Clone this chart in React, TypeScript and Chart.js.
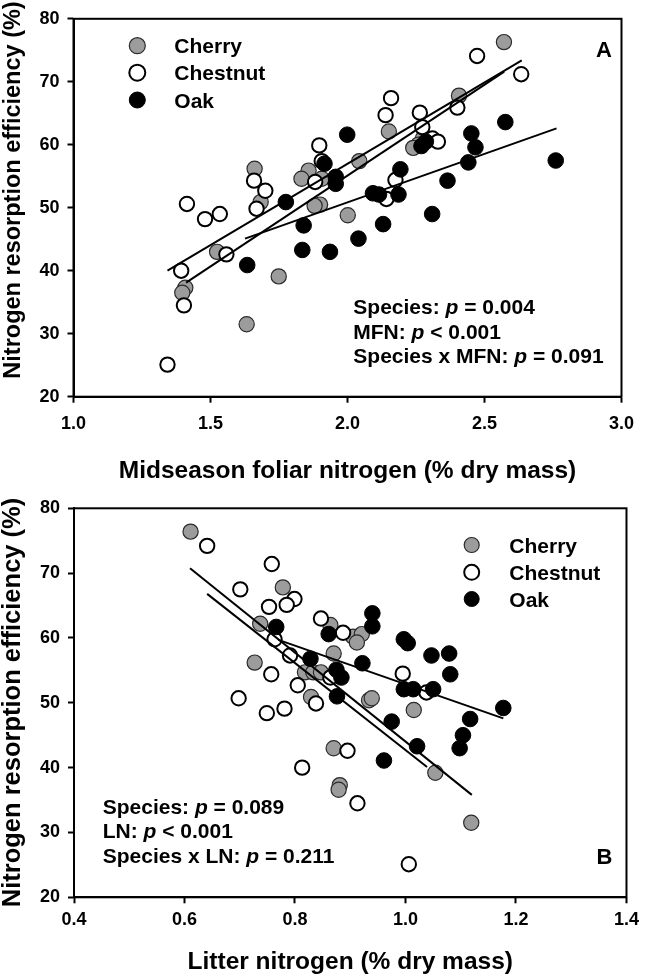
import { useEffect, useRef } from "react";
import { Chart, registerables } from "chart.js";

Chart.register(...registerables);

const FONT = "'Liberation Sans', Arial, Helvetica, sans-serif";

// ---- Panel A: midseason foliar nitrogen vs. nitrogen resorption efficiency ----
const cherryMfn = [2.571, 2.407, 2.151, 2.275, 2.258, 2.240, 2.043, 1.661, 1.858, 1.832, 1.906, 1.683, 1.900, 1.880, 2.001, 1.524, 1.749, 1.408, 1.397, 1.632];
const cherryNreA = [76.3, 67.8, 62.1, 61.0, 60.0, 59.5, 57.4, 56.2, 55.9, 54.6, 54.6, 50.9, 50.5, 50.3, 48.8, 43.0, 39.1, 37.3, 36.5, 31.5];

const chestnutMfn = [2.473, 2.634, 2.159, 2.401, 2.264, 2.139, 2.273, 2.310, 2.330, 1.897, 1.906, 1.659, 1.882, 2.175, 1.700, 2.142, 1.414, 1.668, 1.534, 1.480, 1.558, 1.393, 1.403, 1.343];
const chestnutNreA = [74.1, 71.2, 67.4, 65.9, 65.1, 64.7, 62.8, 61.0, 60.5, 59.9, 57.4, 54.3, 54.1, 54.4, 52.7, 51.4, 50.6, 49.85, 49.0, 48.2, 42.6, 40.0, 34.5, 25.1];

const oakMfn = [2.576, 1.999, 2.452, 2.286, 2.270, 2.467, 2.760, 2.441, 1.916, 2.193, 1.957, 1.957, 2.365, 2.093, 2.115, 2.186, 1.775, 2.309, 2.130, 1.840, 2.040, 1.835, 1.936, 1.634];
const oakNreA = [63.6, 61.6, 61.8, 60.5, 59.8, 59.6, 57.5, 57.2, 57.0, 56.1, 54.9, 53.8, 54.3, 52.3, 52.1, 52.1, 50.9, 49.0, 47.4, 47.2, 45.1, 43.3, 43.0, 40.9];

// fitted regression lines (end points)
const cherryFitA = { x: [1.411, 2.572], y: [38.1, 71.6] };
const chestnutFitA = { x: [1.343, 2.636], y: [40.0, 73.4] };
const oakFitA = { x: [1.626, 2.763], y: [45.1, 62.6] };

const xTicksA = { min: 1.0, max: 3.0, step: 0.5 };
const statsA = [
  [["Species: ", false], ["p", true], [" = 0.004", false]],
  [["MFN: ", false], ["p", true], [" < 0.001", false]],
  [["Species x MFN: ", false], ["p", true], [" = 0.091", false]],
] as [string, boolean][][];

// ---- Panel B: litter nitrogen vs. nitrogen resorption efficiency ----
const cherryLn = [0.611, 0.778, 0.737, 0.864, 0.905, 0.921, 0.912, 0.870, 0.727, 0.818, 0.833, 0.847, 0.829, 0.934, 0.939, 1.015, 0.870, 1.054, 0.881, 0.879, 1.119];
const cherryNreB = [76.4, 67.8, 62.2, 62.0, 60.2, 60.6, 59.3, 57.6, 56.2, 54.7, 54.7, 54.7, 50.9, 50.4, 50.7, 48.9, 43.0, 39.2, 37.3, 36.6, 31.5];

const chestnutLn = [0.641, 0.758, 0.701, 0.799, 0.785, 0.753, 0.847, 0.887, 0.763, 0.791, 0.757, 0.995, 0.864, 0.805, 1.038, 0.698, 0.838, 0.781, 0.749, 0.895, 0.813, 0.913, 1.006];
const chestnutNreB = [74.2, 71.4, 67.5, 66.0, 65.1, 64.8, 63.0, 60.8, 59.8, 57.3, 54.4, 54.5, 53.9, 52.7, 51.6, 50.7, 49.9, 49.1, 48.4, 42.6, 40.0, 34.5, 25.1];

const oakLn = [0.940, 0.940, 0.766, 0.861, 0.997, 1.004, 1.047, 1.079, 0.828, 0.922, 0.875, 1.081, 0.884, 0.997, 1.014, 1.050, 0.876, 1.177, 1.117, 0.975, 1.104, 1.021, 1.098, 0.961];
const oakNreB = [63.8, 61.8, 61.7, 60.6, 59.8, 59.2, 57.3, 57.6, 56.8, 56.1, 55.1, 54.4, 53.9, 52.1, 52.1, 52.1, 51.0, 49.2, 47.5, 47.1, 45.0, 43.3, 43.0, 41.1];

const cherryFitB = { x: [0.610, 1.120], y: [70.75, 35.8] };
const chestnutFitB = { x: [0.641, 1.039], y: [66.8, 40.1] };
const oakFitB = { x: [0.770, 1.177], y: [59.7, 47.6] };

const xTicksB = { min: 0.4, max: 1.4, step: 0.2 };
const statsB = [
  [["Species: ", false], ["p", true], [" = 0.089", false]],
  [["LN: ", false], ["p", true], [" < 0.001", false]],
  [["Species x LN: ", false], ["p", true], [" = 0.211", false]],
] as [string, boolean][][];

const yTicks = { min: 20, max: 80, step: 10 };
const speciesNames = ["Cherry", "Chestnut", "Oak"];
const yTitle = "Nitrogen resorption efficiency (%)";

type Style = { fill: string; stroke: string; width: number; r: number };
const STYLES: Record<string, Style> = {
  Cherry: { fill: "#9c9c9c", stroke: "#2a2a2a", width: 1.2, r: 7.6 },
  Chestnut: { fill: "#ffffff", stroke: "#000000", width: 2, r: 7.2 },
  Oak: { fill: "#000000", stroke: "#000000", width: 1, r: 7.8 },
};

const zip = (xs: number[], ys: number[]) => xs.map((x, i) => ({ x, y: ys[i] }));

type PanelSpec = {
  width: number;
  height: number;
  area: { top: number; bottom: number; left: number; right: number };
  xTicks: { min: number; max: number; step: number };
  xTitle: string;
  xTitleBaseline: number;
  yTitleSize: number;
  yTitleCenter: number;
  xTitleSize: number;
  xLabelPad: number;
  points: { name: string; x: number[]; y: number[] }[];
  fits: { x: number[]; y: number[] }[];
  legend: { markerX: number; textX: number; ys: number[]; r: number };
  stats: { x: number; baselines: number[]; lines: [string, boolean][][] };
  letter: { text: string; x: number; baseline: number };
};

function drawRich(ctx: CanvasRenderingContext2D, x: number, y: number, parts: [string, boolean][], size: number) {
  let cx = x;
  for (const [t, italic] of parts) {
    ctx.font = `${italic ? "italic " : ""}bold ${size}px ${FONT}`;
    ctx.fillText(t, cx, y);
    cx += ctx.measureText(t).width;
  }
}

function buildChart(canvas: HTMLCanvasElement, p: PanelSpec) {
  const datasets: any[] = [];
  for (const f of p.fits) {
    datasets.push({
      data: zip(f.x, f.y),
      showLine: true,
      borderColor: "#000",
      borderWidth: 2,
      pointRadius: 0,
      fill: false,
    });
  }
  // draw order: first dataset ends up on top
  for (const name of ["Oak", "Chestnut", "Cherry"]) {
    const s = p.points.find((q) => q.name === name)!;
    const st = STYLES[name];
    datasets.push({
      label: name,
      data: zip(s.x, s.y),
      pointRadius: st.r,
      pointBackgroundColor: st.fill,
      pointBorderColor: st.stroke,
      pointBorderWidth: st.width,
      showLine: false,
    });
  }

  const decor = {
    id: "panelDecor",
    afterDraw(chart: any) {
      const ctx: CanvasRenderingContext2D = chart.ctx;
      const a = chart.chartArea;
      ctx.save();
      // box frame
      ctx.strokeStyle = "#000";
      ctx.lineWidth = 2;
      ctx.strokeRect(a.left, a.top, a.right - a.left, a.bottom - a.top);

      ctx.fillStyle = "#000";
      // x axis title
      ctx.font = `bold ${p.xTitleSize}px ${FONT}`;
      ctx.textAlign = "center";
      ctx.textBaseline = "alphabetic";
      ctx.fillText(p.xTitle, (a.left + a.right) / 2, p.xTitleBaseline);

      // y axis title
      ctx.save();
      ctx.translate(19.5, p.yTitleCenter);
      ctx.rotate(-Math.PI / 2);
      ctx.font = `bold ${p.yTitleSize}px ${FONT}`;
      ctx.textAlign = "center";
      ctx.fillText(yTitle, 0, 0);
      ctx.restore();

      // legend
      ctx.textAlign = "left";
      speciesNames.forEach((name, i) => {
        const st = STYLES[name];
        const cy = p.legend.ys[i];
        ctx.beginPath();
        ctx.arc(p.legend.markerX, cy, p.legend.r, 0, Math.PI * 2);
        ctx.fillStyle = st.fill;
        ctx.fill();
        ctx.lineWidth = st.width;
        ctx.strokeStyle = st.stroke;
        ctx.stroke();
        ctx.fillStyle = "#000";
        ctx.font = `bold 21px ${FONT}`;
        ctx.textBaseline = "alphabetic";
        ctx.fillText(name, p.legend.textX, cy + 7.5);
      });

      // statistics
      p.stats.lines.forEach((parts, i) => drawRich(ctx, p.stats.x, p.stats.baselines[i], parts, 21));

      // panel letter
      ctx.font = `bold 22px ${FONT}`;
      ctx.fillText(p.letter.text, p.letter.x, p.letter.baseline);
      ctx.restore();
    },
  };

  const fixed = (v: any) => Number(v).toFixed(1);

  return new Chart(canvas, {
    type: "scatter",
    data: { datasets },
    options: {
      animation: false,
      responsive: false,
      devicePixelRatio: 1,
      events: [],
      layout: {
        autoPadding: false,
        padding: { top: p.area.top, right: p.width - p.area.right, left: 0, bottom: 0 },
      },
      plugins: { legend: { display: false }, tooltip: { enabled: false } },
      scales: {
        x: {
          type: "linear",
          min: p.xTicks.min,
          max: p.xTicks.max,
          afterFit: (s: any) => {
            s.height = p.height - p.area.bottom;
          },
          ticks: {
            stepSize: p.xTicks.step,
            callback: fixed,
            color: "#000",
            font: { family: FONT, size: 18, weight: "bold" },
            padding: p.xLabelPad,
            maxRotation: 0,
            autoSkip: false,
          },
          grid: { display: true, drawOnChartArea: false, drawTicks: true, tickLength: 6, tickColor: "#000", tickWidth: 2 },
          border: { display: true, color: "#000", width: 2 },
        },
        y: {
          type: "linear",
          min: yTicks.min,
          max: yTicks.max,
          afterFit: (s: any) => {
            s.width = p.area.left;
          },
          ticks: {
            stepSize: yTicks.step,
            color: "#000",
            font: { family: FONT, size: 18, weight: "bold" },
            padding: 8,
          },
          grid: { display: true, drawOnChartArea: false, drawTicks: true, tickLength: 6, tickColor: "#000", tickWidth: 2 },
          border: { display: true, color: "#000", width: 2 },
        },
      },
    } as any,
    plugins: [decor],
  });
}

const panelA: PanelSpec = {
  width: 645,
  height: 488,
  area: { top: 6.7, bottom: 396.7, left: 73.5, right: 632.5 },
  xTicks: xTicksA,
  xTitle: "Midseason foliar nitrogen (% dry mass)",
  xTitleBaseline: 478,
  xTitleSize: 24.5,
  yTitleSize: 23.5,
  yTitleCenter: 190,
  xLabelPad: 11,
  points: [
    { name: "Cherry", x: cherryMfn, y: cherryNreA },
    { name: "Chestnut", x: chestnutMfn, y: chestnutNreA },
    { name: "Oak", x: oakMfn, y: oakNreA },
  ],
  fits: [chestnutFitA, cherryFitA, oakFitA],
  legend: { markerX: 137.3, textX: 174.3, ys: [45.7, 72.7, 100], r: 8 },
  stats: { x: 353.3, baselines: [313.5, 338.5, 363], lines: statsA },
  letter: { text: "A", x: 596, baseline: 57.3 },
};

const panelB: PanelSpec = {
  width: 645,
  height: 489,
  area: { top: 20.3, bottom: 409.3, left: 74, right: 631 },
  xTicks: xTicksB,
  xTitle: "Litter nitrogen (% dry mass)",
  xTitleBaseline: 481,
  xTitleSize: 24.5,
  yTitleSize: 25.5,
  yTitleCenter: 214.5,
  xLabelPad: 6,
  points: [
    { name: "Cherry", x: cherryLn, y: cherryNreB },
    { name: "Chestnut", x: chestnutLn, y: chestnutNreB },
    { name: "Oak", x: oakLn, y: oakNreB },
  ],
  fits: [cherryFitB, chestnutFitB, oakFitB],
  legend: { markerX: 471.7, textX: 509.3, ys: [57, 84.3, 111], r: 7.5 },
  stats: { x: 102.7, baselines: [326, 350.3, 375.3], lines: statsB },
  letter: { text: "B", x: 596.5, baseline: 376 },
};

function Panel({ spec }: { spec: PanelSpec }) {
  const ref = useRef<HTMLCanvasElement>(null);
  useEffect(() => {
    if (!ref.current) return;
    const chart = buildChart(ref.current, spec);
    return () => chart.destroy();
  }, [spec]);
  return <canvas ref={ref} width={spec.width} height={spec.height} style={{ display: "block", width: spec.width, height: spec.height }} />;
}

export default function App() {
  return (
    <div style={{ position: "absolute", left: 0, top: 0, width: 645, height: 977, background: "#fff" }}>
      <Panel spec={panelA} />
      <Panel spec={panelB} />
    </div>
  );
}
